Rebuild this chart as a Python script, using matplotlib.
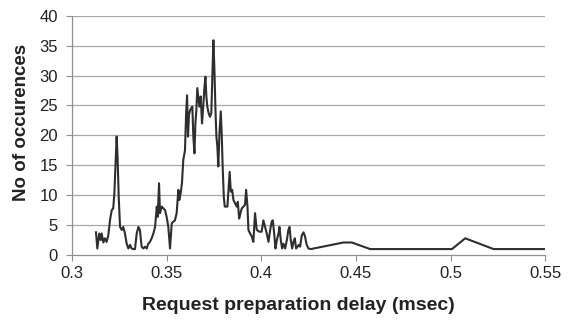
import matplotlib
matplotlib.use("Agg")
import matplotlib.pyplot as plt

# request preparation delay (msec) and number of occurences
delay = [0.3127, 0.3134, 0.3144, 0.3152, 0.3157, 0.3166, 0.3174, 0.3183, 0.3192, 0.3201,
         0.3210, 0.3218, 0.3224, 0.3231, 0.3236, 0.3241, 0.3247, 0.3254, 0.3263, 0.3271,
         0.3280, 0.3289, 0.3298, 0.3307, 0.3315, 0.3324, 0.3333, 0.3342, 0.3351, 0.3359,
         0.3368, 0.3377, 0.3386, 0.3395, 0.3403, 0.3412, 0.3421, 0.3430, 0.3439, 0.3448,
         0.3453, 0.3460, 0.3465, 0.3474, 0.3483, 0.3492, 0.3500, 0.3509, 0.3518, 0.3527,
         0.3536, 0.3544, 0.3553, 0.3562, 0.3567, 0.3574, 0.3581, 0.3588, 0.3597, 0.3603,
         0.3608, 0.3613, 0.3618, 0.3624, 0.3629, 0.3636, 0.3641, 0.3647, 0.3652, 0.3657,
         0.3662, 0.3668, 0.3673, 0.3680, 0.3687, 0.3694, 0.3700, 0.3705, 0.3710, 0.3715,
         0.3722, 0.3729, 0.3736, 0.3742, 0.3747, 0.3752, 0.3758, 0.3763, 0.3768, 0.3773,
         0.3779, 0.3786, 0.3791, 0.3796, 0.3802, 0.3807, 0.3814, 0.3821, 0.3828, 0.3833,
         0.3839, 0.3846, 0.3853, 0.3862, 0.3870, 0.3876, 0.3883, 0.3890, 0.3897, 0.3906,
         0.3914, 0.3920, 0.3927, 0.3932, 0.3941, 0.3950, 0.3958, 0.3967, 0.3976, 0.3990,
         0.4002, 0.4011, 0.4020, 0.4029, 0.4038, 0.4047, 0.4055, 0.4061, 0.4068, 0.4075,
         0.4082, 0.4091, 0.4096, 0.4103, 0.4110, 0.4117, 0.4126, 0.4135, 0.4143, 0.4149,
         0.4156, 0.4163, 0.4170, 0.4177, 0.4184, 0.4191, 0.4198, 0.4205, 0.4214, 0.4223,
         0.4231, 0.4240, 0.4249, 0.4261, 0.4434, 0.4478, 0.4575, 0.5007, 0.5077, 0.5227,
         0.5500]
count = [3.8, 1.1, 3.6, 2.5, 3.6, 2.1, 2.8, 2.2, 3.3, 5.8,
         7.5, 7.8, 10.3, 15.9, 19.8, 16.4, 9.7, 4.7, 4.2, 4.7,
         3.6, 1.9, 1.1, 1.7, 1.1, 1.0, 1.0, 3.6, 4.7, 4.2,
         1.4, 1.1, 1.4, 1.1, 1.9, 2.2, 2.8, 3.6, 4.7, 8.1,
         6.4, 12.0, 7.0, 8.1, 7.8, 7.5, 6.4, 4.7, 1.1, 5.3,
         5.6, 5.8, 7.0, 10.9, 9.2, 10.3, 12.0, 15.9, 17.5, 23.7,
         26.7, 19.8, 23.4, 24.2, 24.5, 24.8, 19.8, 17.0, 22.0, 24.2,
         27.9, 26.2, 24.8, 26.5, 22.0, 25.1, 28.1, 29.8, 26.5, 24.8,
         23.7, 23.1, 23.7, 30.4, 35.9, 31.5, 24.2, 19.8, 18.1, 14.8,
         20.3, 24.0, 20.3, 14.8, 9.7, 8.1, 8.1, 8.1, 11.4, 13.9,
         10.6, 10.9, 9.2, 8.6, 8.1, 8.9, 6.1, 7.0, 7.8, 8.1,
         8.4, 10.9, 8.1, 4.2, 3.6, 3.1, 2.2, 7.0, 4.2, 3.9,
         3.9, 5.8, 4.7, 3.6, 2.2, 4.2, 5.6, 5.8, 3.6, 1.1,
         2.5, 3.6, 4.7, 2.5, 1.1, 1.9, 1.1, 2.5, 4.2, 4.7,
         2.5, 1.1, 2.2, 2.8, 1.1, 1.4, 1.7, 1.4, 3.3, 3.8,
         3.1, 1.7, 1.1, 1.0, 2.1, 2.1, 1.0, 1.0, 2.8, 1.0,
         1.0]

xticks = [0.3, 0.35, 0.4, 0.45, 0.5, 0.55]
xtick_labels = ["0.3", "0.35", "0.4", "0.45", "0.5", "0.55"]
yticks = [0, 5, 10, 15, 20, 25, 30, 35, 40]

plt.rcParams['font.family'] = ['Liberation Sans', 'DejaVu Sans']

fig = plt.figure(figsize=(5.71, 3.27), dpi=100)
ax = fig.add_axes([0.126, 0.22, 0.829, 0.732])

for y in yticks[1:]:
    ax.axhline(y, color='#a8a8a8', linewidth=0.9, zorder=1)

ax.plot(delay, count, color='#2e2e2e', linewidth=1.5, zorder=3)

ax.set_xlim(0.3, 0.55)
ax.set_ylim(0, 40)
ax.set_xticks(xticks)
ax.set_xticklabels(xtick_labels)
ax.set_yticks(yticks)

for side in ['top', 'right']:
    ax.spines[side].set_visible(False)
for side in ['left', 'bottom']:
    ax.spines[side].set_color('#909090')
    ax.spines[side].set_linewidth(0.9)

ax.tick_params(axis='both', direction='out', length=4, width=0.8,
               color='#909090', labelsize=12, labelcolor='#222222')
ax.tick_params(axis='x', pad=4)
ax.tick_params(axis='y', pad=6)

ax.set_xlabel("Request preparation delay (msec)", fontsize=14, fontweight='bold',
              color='#222222')
ax.set_ylabel("No of occurences", fontsize=13.5, fontweight='bold',
              color='#222222')
ax.xaxis.set_label_coords(0.479, -0.175)
ax.yaxis.set_label_coords(-0.088, 0.555)

fig.savefig("out.png", dpi=100, facecolor='white')
